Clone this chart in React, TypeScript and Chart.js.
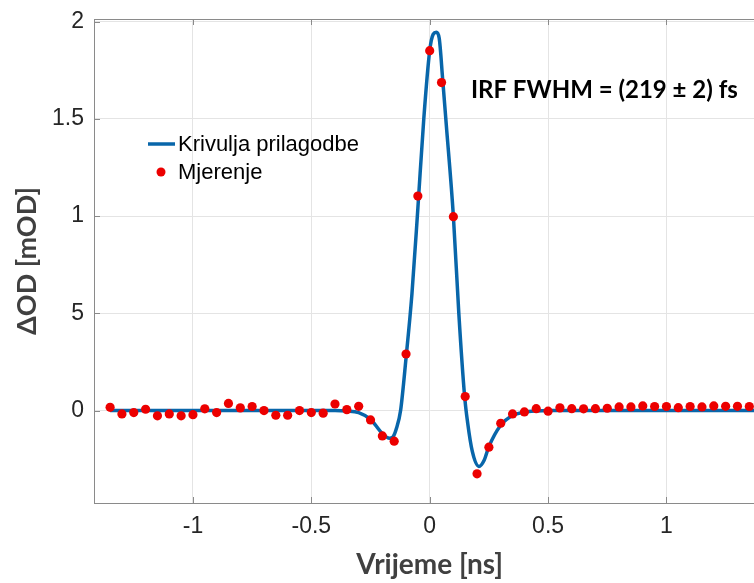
import React, { useEffect, useRef } from "react";
import { Chart, registerables } from "chart.js";

Chart.register(...registerables);

// Measured points (time in ns, ΔOD in mOD)
const MEAS_X = [
  -1.35, -1.3, -1.25, -1.2, -1.15, -1.1, -1.05, -1.0, -0.95, -0.9, -0.85, -0.8, -0.75, -0.7,
  -0.65, -0.6, -0.55, -0.5, -0.45, -0.4, -0.35, -0.3, -0.25, -0.2, -0.15, -0.1, -0.05, 0.0,
  0.05, 0.1, 0.15, 0.2, 0.25, 0.3, 0.35, 0.4, 0.45, 0.5, 0.55, 0.6, 0.65, 0.7, 0.75, 0.8,
  0.85, 0.9, 0.95, 1.0, 1.05, 1.1, 1.15, 1.2, 1.25, 1.3, 1.35,
];
const MEAS_Y = [
  0.017, -0.017, -0.01, 0.007, -0.027, -0.017, -0.027, -0.021, 0.009, -0.01, 0.037, 0.014, 0.021, 0.0,
  -0.024, -0.024, 0.0, -0.01, -0.013, 0.034, 0.005, 0.022, -0.048, -0.13, -0.157, 0.291, 1.103, 1.85,
  1.686, 0.997, 0.072, -0.325, -0.188, -0.065, -0.017, -0.007, 0.01, -0.003, 0.014, 0.01, 0.009, 0.01, 0.012, 0.019,
  0.019, 0.024, 0.021, 0.021, 0.015, 0.021, 0.019, 0.024, 0.022, 0.022, 0.021,
];

// Fitted curve
const FIT_X = [
  -1.35, -0.4, -0.35, -0.3, -0.25, -0.2, -0.17, -0.155, -0.14, -0.123, -0.1, -0.075, -0.05, -0.025,
  0.0, 0.015, 0.028, 0.04, 0.055, 0.07, 0.1, 0.123, 0.147, 0.16, 0.18, 0.208, 0.23, 0.25, 0.3,
  0.35, 0.4, 0.45, 0.5, 1.42,
];
const FIT_Y = [
  0, 0, -0.002, -0.01, -0.045, -0.118, -0.142, -0.135, -0.09, 0, 0.27, 0.6, 1.04, 1.5,
  1.85, 1.935, 1.945, 1.915, 1.7, 1.47, 1.0, 0.5, 0.08, -0.06, -0.21, -0.287, -0.255, -0.185, -0.075,
  -0.025, -0.008, -0.002, 0, 0,
];

const X_TICKS = [-1, -0.5, 0, 0.5, 1];
const X_TICK_LABELS = ["-1", "-0.5", "0", "0.5", "1"];
const Y_TICKS = [0, 0.5, 1, 1.5, 2];
const Y_TICK_LABELS = ["0", "5", "1", "1.5", "2"];
const X_RANGE = [-1.418, 1.418];
const Y_RANGE = [-0.475, 2.013];

const X_TITLE = "Vrijeme [ns]";
const Y_TITLE = "ΔOD [mOD]";
const LABEL_FIT = "Krivulja prilagodbe";
const LABEL_MEAS = "Mjerenje";
const ANNOTATION_TEXT = "IRF FWHM = (219 ± 2) fs";
const ANNOTATION_POS = [0.174, 1.649];

const LINE_COLOR = "#0866aa";
const DOT_COLOR = "#ec0000";
const AXIS_COLOR = "#8a8a8a";
const GRID_COLOR = "#e4e4e4";
const TICK_COLOR = "#262626";
const TITLE_COLOR = "#404040";

const inwardTicks = {
  id: "inwardTicks",
  afterDraw(chart: any) {
    const { ctx, chartArea } = chart;
    const xs = chart.scales.x;
    const ys = chart.scales.y;
    ctx.save();
    ctx.strokeStyle = AXIS_COLOR;
    ctx.lineWidth = 1;
    ctx.beginPath();
    X_TICKS.forEach((v) => {
      const px = Math.round(xs.getPixelForValue(v)) + 0.5;
      ctx.moveTo(px, chartArea.bottom);
      ctx.lineTo(px, chartArea.bottom - 6);
      ctx.moveTo(px, chartArea.top);
      ctx.lineTo(px, chartArea.top + 6);
    });
    Y_TICKS.forEach((v) => {
      const py = Math.round(ys.getPixelForValue(v)) + 0.5;
      ctx.moveTo(chartArea.left, py);
      ctx.lineTo(chartArea.left + 6, py);
    });
    ctx.stroke();
    ctx.restore();
  },
};

const legendAndNote = {
  id: "legendAndNote",
  afterDraw(chart: any) {
    const { ctx } = chart;
    const xs = chart.scales.x;
    const ys = chart.scales.y;
    ctx.save();
    // legend (placed relative to the axes frame)
    const lx = xs.left + 54;
    const ly1 = ys.getPixelForValue(Y_RANGE[1]) + 125;
    const ly2 = ly1 + 28;
    ctx.strokeStyle = LINE_COLOR;
    ctx.lineWidth = 3.5;
    ctx.beginPath();
    ctx.moveTo(lx, ly1);
    ctx.lineTo(lx + 27, ly1);
    ctx.stroke();
    ctx.fillStyle = DOT_COLOR;
    ctx.beginPath();
    ctx.arc(lx + 13, ly2, 4.5, 0, Math.PI * 2);
    ctx.fill();
    ctx.fillStyle = "#000";
    ctx.font = '22px "Liberation Sans", Arial, sans-serif';
    ctx.textBaseline = "middle";
    ctx.textAlign = "left";
    ctx.fillText(LABEL_FIT, lx + 30, ly1 + 1);
    ctx.fillText(LABEL_MEAS, lx + 30, ly2 + 1);
    // annotation
    ctx.font = 'bold 24px Lato, "Open Sans", sans-serif';
    ctx.fillStyle = "#000";
    ctx.fillText(
      ANNOTATION_TEXT,
      xs.getPixelForValue(ANNOTATION_POS[0]),
      ys.getPixelForValue(ANNOTATION_POS[1])
    );
    ctx.restore();
  },
};

export default function App() {
  const ref = useRef<HTMLCanvasElement | null>(null);
  useEffect(() => {
    if (!ref.current) return;
    const fitData = FIT_X.map((x, i) => ({ x, y: FIT_Y[i] }));
    const measData = MEAS_X.map((x, i) => ({ x, y: MEAS_Y[i] }));
    const chart = new Chart(ref.current, {
      type: "line",
      data: {
        datasets: [
          {
            label: LABEL_FIT,
            data: fitData,
            borderColor: LINE_COLOR,
            borderWidth: 3.5,
            pointRadius: 0,
            cubicInterpolationMode: "monotone",
            fill: false,
            order: 1,
          },
          {
            label: LABEL_MEAS,
            data: measData,
            showLine: false,
            pointRadius: 4.6,
            pointBorderWidth: 0,
            pointBackgroundColor: DOT_COLOR,
            pointBorderColor: DOT_COLOR,
            order: 0,
          },
        ],
      },
      options: {
        responsive: false,
        animation: false,
        devicePixelRatio: 1,
        layout: { padding: { left: 0, top: 19, right: 1, bottom: 0 } },
        plugins: { legend: { display: false }, tooltip: { enabled: false } },
        scales: {
          x: {
            type: "linear",
            position: "bottom",
            min: X_RANGE[0],
            max: X_RANGE[1],
            afterBuildTicks: (s: any) => {
              s.ticks = X_TICKS.map((v) => ({ value: v }));
            },
            afterFit: (s: any) => {
              s.height = 80;
            },
            ticks: {
              callback: (v: any) => X_TICK_LABELS[X_TICKS.indexOf(Number(v))] ?? "",
              color: TICK_COLOR,
              font: { family: '"Liberation Sans", Arial, sans-serif', size: 23 },
              padding: 10,
              maxRotation: 0,
            },
            grid: { color: GRID_COLOR, drawTicks: false },
            border: { color: AXIS_COLOR, width: 1 },
            title: {
              display: true,
              text: X_TITLE,
              color: TITLE_COLOR,
              font: { family: "Lato, 'Open Sans', sans-serif", size: 28, weight: "bold" },
              padding: { top: 0, bottom: 1 },
            },
          },
          x2: {
            type: "linear",
            position: "top",
            min: X_RANGE[0],
            max: X_RANGE[1],
            afterFit: (s: any) => {
              s.height = 0;
            },
            ticks: { display: false },
            grid: { display: false, drawTicks: false },
            border: { color: AXIS_COLOR, width: 1 },
          },
          y: {
            type: "linear",
            position: "left",
            min: Y_RANGE[0],
            max: Y_RANGE[1],
            afterBuildTicks: (s: any) => {
              s.ticks = Y_TICKS.map((v) => ({ value: v }));
            },
            afterFit: (s: any) => {
              s.width = 94;
              s.paddingTop = 0;
              s.paddingBottom = 0;
            },
            ticks: {
              callback: (v: any) => Y_TICK_LABELS[Y_TICKS.indexOf(Number(v))] ?? "",
              color: TICK_COLOR,
              font: { family: '"Liberation Sans", Arial, sans-serif', size: 23 },
              padding: 10,
            },
            grid: { color: GRID_COLOR, drawTicks: false },
            border: { color: AXIS_COLOR, width: 1 },
            title: {
              display: true,
              text: Y_TITLE,
              color: TITLE_COLOR,
              font: { family: "Lato, 'Open Sans', sans-serif", size: 27, weight: "bold" },
              padding: { top: 11, bottom: 0 },
            },
          },
        },
      },
      plugins: [inwardTicks, legendAndNote],
    } as any);
    return () => chart.destroy();
  }, []);

  return (
    <div
      style={{
        position: "absolute",
        left: 0,
        top: 0,
        width: 754,
        height: 583,
        overflow: "hidden",
        background: "#fff",
      }}
    >
      <canvas ref={ref} width={770} height={583} style={{ display: "block", width: 770, height: 583 }} />
    </div>
  );
}
